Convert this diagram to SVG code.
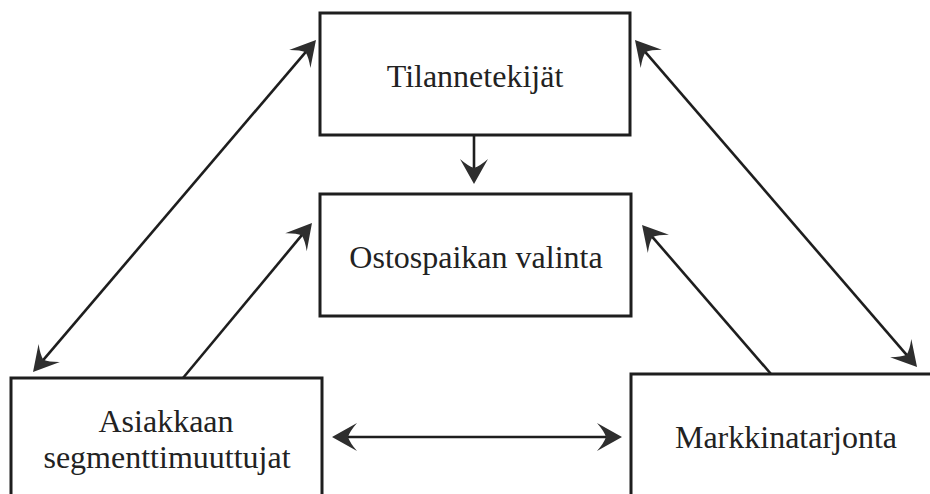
<svg xmlns="http://www.w3.org/2000/svg" width="930" height="494" viewBox="0 0 930 494">
  <style>
    .box { fill: #ffffff; stroke: #1e1e1e; stroke-width: 3; }
    .label { font-family: "Liberation Serif", "Times New Roman", serif; font-size: 32px; fill: #222222; text-anchor: middle; }
    .link { stroke: #1e1e1e; stroke-width: 2.6; fill: none; }
  </style>
  <defs>
    <!-- barbed arrowhead; the line end sits 12px behind the tip -->
    <marker id="head" viewBox="-28 -16 30 32" refX="-12" refY="0" markerWidth="30" markerHeight="32" markerUnits="userSpaceOnUse" orient="auto-start-reverse">
      <path d="M0,0 L-25,-14 Q-18,-6 -16,0 Q-18,6 -25,14 Z" fill="#2e2e2e"/>
    </marker>
  </defs>

  <rect width="930" height="494" fill="#ffffff"/>

  <g id="connectors">
    <!-- Tilannetekijät -> Ostospaikan valinta -->
    <line class="link" x1="474" y1="135" x2="474" y2="172" marker-end="url(#head)"/>
    <!-- Asiakkaan segmenttimuuttujat <-> Tilannetekijät -->
    <line class="link" x1="40.8" y1="362.9" x2="308.2" y2="49.1" marker-start="url(#head)" marker-end="url(#head)"/>
    <!-- Asiakkaan segmenttimuuttujat -> Ostospaikan valinta -->
    <line class="link" x1="183" y1="378" x2="304.3" y2="232.2" marker-end="url(#head)"/>
    <!-- Markkinatarjonta -> Ostospaikan valinta -->
    <line class="link" x1="771" y1="374" x2="649.9" y2="234.1" marker-end="url(#head)"/>
    <!-- Tilannetekijät <-> Markkinatarjonta -->
    <line class="link" x1="642.8" y1="49.1" x2="909.2" y2="357.9" marker-start="url(#head)" marker-end="url(#head)"/>
    <!-- Asiakkaan segmenttimuuttujat <-> Markkinatarjonta -->
    <line class="link" x1="344" y1="437" x2="610" y2="437" marker-start="url(#head)" marker-end="url(#head)"/>
  </g>

  <g id="tilannetekijat">
    <rect class="box" x="320" y="13" width="310" height="122"/>
    <text class="label" x="475" y="87">Tilannetekijät</text>
  </g>

  <g id="ostospaikan-valinta">
    <rect class="box" x="320" y="194" width="311" height="122"/>
    <text class="label" x="476" y="268">Ostospaikan valinta</text>
  </g>

  <g id="asiakkaan-segmenttimuuttujat">
    <rect class="box" x="11" y="378" width="311" height="130"/>
    <text class="label" x="166" y="432">Asiakkaan</text>
    <text class="label" x="167" y="468">segmenttimuuttujat</text>
  </g>

  <g id="markkinatarjonta">
    <rect class="box" x="631" y="374" width="310" height="134"/>
    <text class="label" x="786" y="448">Markkinatarjonta</text>
  </g>
</svg>
